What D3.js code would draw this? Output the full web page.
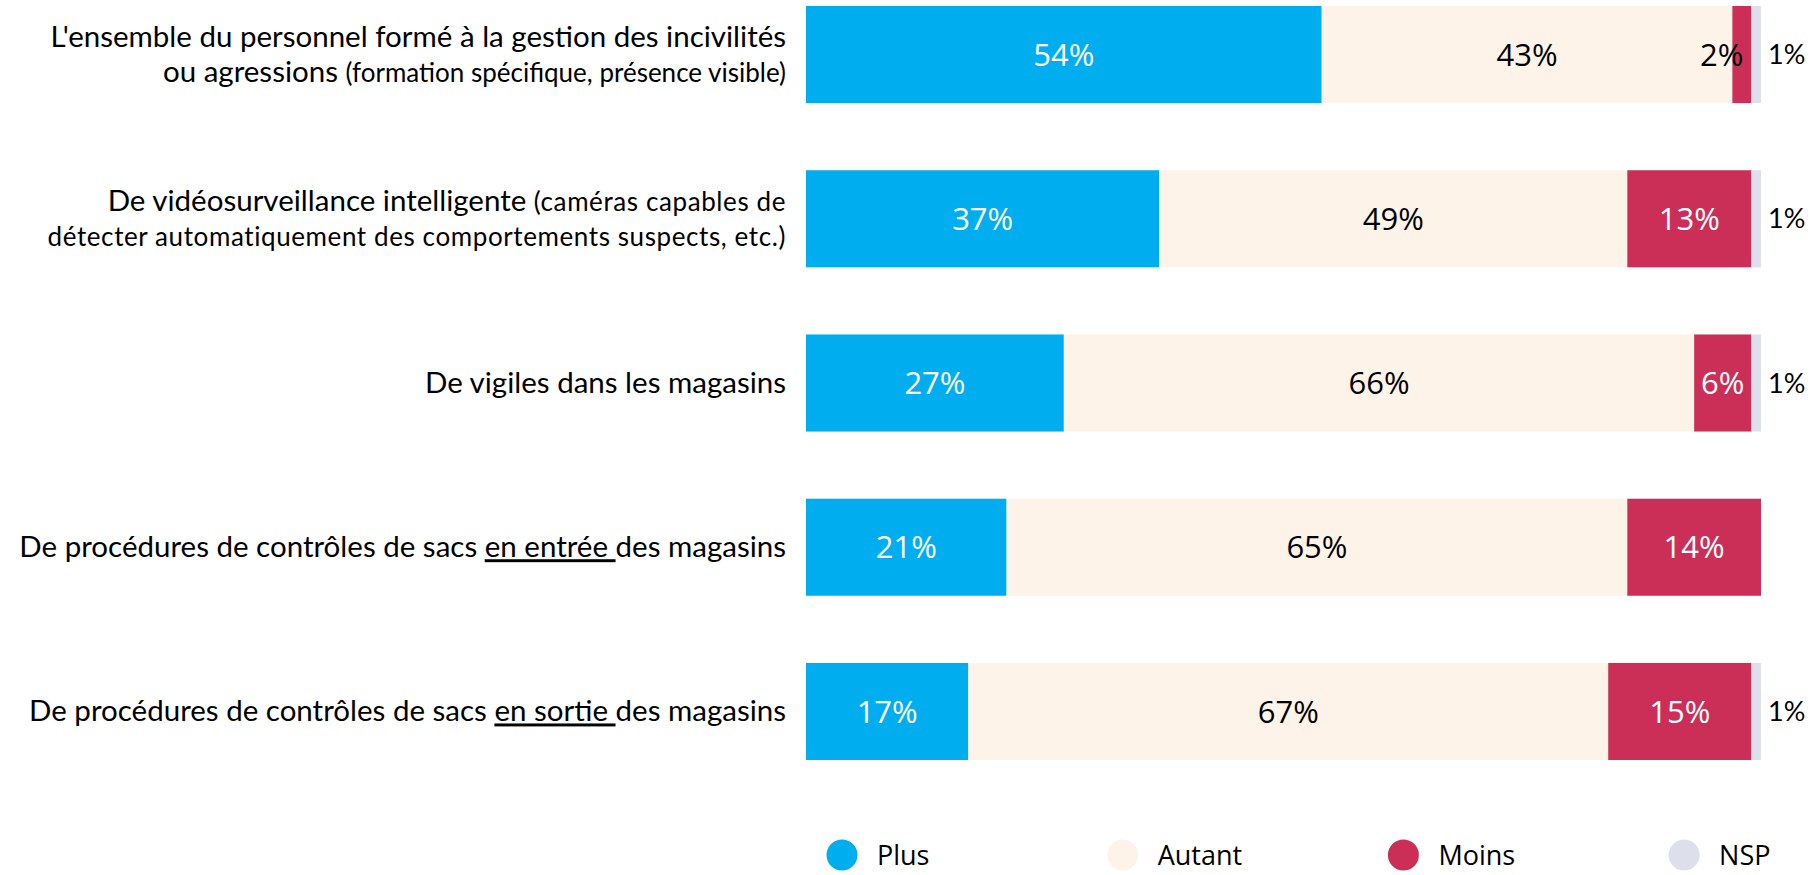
<!DOCTYPE html>
<html>
<head>
<meta charset="utf-8">
<script src="https://cdn.jsdelivr.net/npm/d3@7"></script>
<style>
  html, body { margin: 0; padding: 0; background: #fff; }
  svg { display: block; }
</style>
</head>
<body>
<svg id="chart" width="1814" height="875"></svg>
<script>
// ---------- DATA ----------
const categories = [
  "L'ensemble du personnel formé à la gestion des incivilités ou agressions (formation spécifique, présence visible)",
  "De vidéosurveillance intelligente (caméras capables de détecter automatiquement des comportements suspects, etc.)",
  "De vigiles dans les magasins",
  "De procédures de contrôles de sacs en entrée des magasins",
  "De procédures de contrôles de sacs en sortie des magasins"
];
// label lines: each line = list of [text, kind] ; kind: "b" big, "s" small, "w" small spaced, "u" underlined big
const labelLines = [
  [[["L'ensemble du personnel formé à la gestion des incivilités", "b"]],
   [["ou agressions ", "b"], ["(formation spécifique, présence visible)", "s"]]],
  [[["De vidéosurveillance intelligente ", "b"], ["(caméras capables de", "w"]],
   [["détecter automatiquement des comportements suspects, etc.)", "w"]]],
  [[["De vigiles dans les magasins", "b"]]],
  [[["De procédures de contrôles de sacs ", "b"], ["en entrée ", "u"], ["des magasins", "b"]]],
  [[["De procédures de contrôles de sacs ", "b"], ["en sortie ", "u"], ["des magasins", "b"]]]
];
const seriesNames = ["Plus", "Autant", "Moins", "NSP"];
const plus   = [54, 37, 27, 21, 17];
const autant = [43, 49, 66, 65, 67];
const moins  = [2, 13, 6, 14, 15];
const nsp    = [1, 1, 1, 0, 1];
const colors = ["#00AEEF", "#FDF3E9", "#CB2F57", "#DDE0EB"];

// ---------- BUILD ----------
const rows = categories.map((c, i) => ({
  cat: c, Plus: plus[i], Autant: autant[i], Moins: moins[i], NSP: nsp[i]
}));
const stack = d3.stack().keys(seriesNames)(rows);

const svg = d3.select("#chart");
const x = d3.scaleLinear().domain([0, 100]).range([806, 1761]);
const y = d3.scaleBand().domain(categories).range([6, 760]).paddingInner(0.409).paddingOuter(0);
const color = d3.scaleOrdinal().domain(seriesNames).range(colors);

const labelFont = "Lato, 'Open Sans', sans-serif";
const valueFont = "'Open Sans', 'Noto Sans', sans-serif";

// bars
const layers = svg.append("g").selectAll("g").data(stack).join("g")
  .attr("fill", d => color(d.key));
layers.selectAll("rect").data(d => d).join("rect")
  .attr("x", d => x(d[0]))
  .attr("y", d => y(d.data.cat))
  .attr("width", d => x(d[1]) - x(d[0]))
  .attr("height", y.bandwidth());

// value labels
stack.forEach(layer => {
  const key = layer.key;
  const g = svg.append("g");
  layer.forEach(d => {
    const v = d.data[key];
    if (!v) return;
    const cy = y(d.data.cat) + y.bandwidth() / 2;
    const t = g.append("text").text(v + "%")
      .attr("y", cy).attr("dy", "0.36em");
    if (key === "NSP") {
      t.attr("x", x(d[1]) + 7).attr("text-anchor", "start")
       .attr("font-family", labelFont).attr("font-size", 27).attr("fill", "#000");
    } else if (key === "Moins" && v < 5) {
      t.attr("x", x(d[1]) - 8).attr("text-anchor", "end")
       .attr("font-family", valueFont).attr("font-size", 31).attr("fill", "#000");
    } else {
      t.attr("x", (x(d[0]) + x(d[1])) / 2).attr("text-anchor", "middle")
       .attr("font-family", valueFont).attr("font-size", 31)
       .attr("fill", key === "Autant" ? "#000" : "#fff");
    }
  });
});

// category labels
const lineH = 35;
const lblG = svg.append("g");
categories.forEach((c, i) => {
  const lines = labelLines[i];
  const cy = y(c) + y.bandwidth() / 2;
  const n = lines.length;
  lines.forEach((segs, j) => {
    const base = n === 1 ? cy + 10 : cy - 8 + j * lineH;
    const t = lblG.append("text")
      .attr("x", 786).attr("y", base)
      .attr("text-anchor", "end")
      .attr("font-family", labelFont)
      .attr("fill", "#000")
      .style("white-space", "pre");
    segs.forEach(([txt, kind]) => {
      const ts = t.append("tspan").text(txt)
        .attr("font-size", (kind === "s" || kind === "w") ? 26 : 29.5);
      if (kind === "w") ts.attr("letter-spacing", 0.6);
      if (kind === "u") ts.attr("text-decoration", "underline");
    });
  });
});

// legend
const leg = svg.append("g");
seriesNames.forEach((s, i) => {
  const cx = 842 + i * 280.7;
  leg.append("circle").attr("cx", cx).attr("cy", 855).attr("r", 15.5).attr("fill", color(s));
  leg.append("text").attr("x", cx + 35).attr("y", 855).attr("dy", "0.36em")
    .attr("font-family", valueFont).attr("font-size", 27).attr("fill", "#000").text(s);
});
</script>
</body>
</html>
